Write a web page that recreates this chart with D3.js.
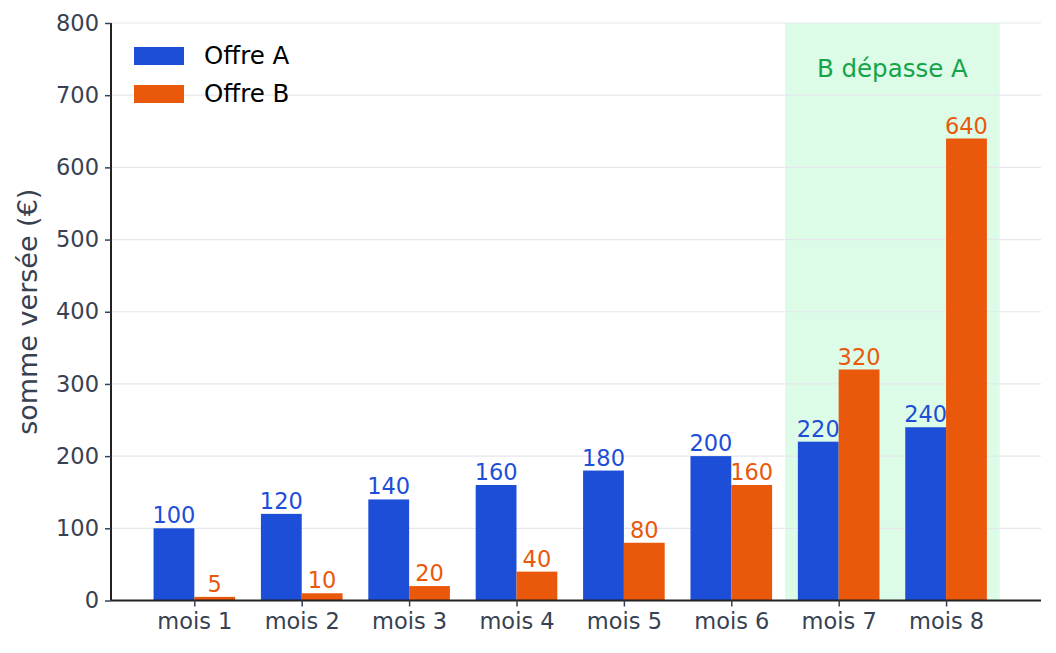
<!DOCTYPE html>
<html>
<head>
<meta charset="utf-8">
<script src="https://cdn.jsdelivr.net/npm/d3@7"></script>
<style>
  body { margin: 0; background: #fff; }
  svg text { font-family: "DejaVu Sans", sans-serif; }
</style>
</head>
<body>
<svg id="chart" width="1056" height="653"></svg>
<script>
// data
var months = ["mois 1", "mois 2", "mois 3", "mois 4", "mois 5", "mois 6", "mois 7", "mois 8"];
var offreA = [100, 120, 140, 160, 180, 200, 220, 240];
var offreB = [5, 10, 20, 40, 80, 160, 320, 640];
var seriesNames = ["Offre A", "Offre B"];
var yTicks = [0, 100, 200, 300, 400, 500, 600, 700, 800];
var highlight = [5.5, 7.5];      // months 7 and 8, in category units
var highlightLabel = "B dépasse A";

var colA = "#1d4ed8", colB = "#ea580c";
var axisCol = "#374151";

var svg = d3.select("#chart");
var plotL = 111, plotR = 1041, plotT = 23, plotB = 600.5;

var x = d3.scaleLinear().domain([-0.776, 7.884]).range([plotL, plotR]);
var y = d3.scaleLinear().domain([0, 800]).range([plotB, plotT]);
var barW = x(0.38) - x(0);

// shaded zone
svg.append("rect")
  .attr("x", x(highlight[0]))
  .attr("y", y(800))
  .attr("width", x(highlight[1]) - x(highlight[0]))
  .attr("height", y(0) - y(800))
  .attr("fill", "#dcfce7");

// grid
svg.append("g").selectAll("line").data(yTicks.slice(1)).enter().append("line")
  .attr("x1", plotL).attr("x2", plotR)
  .attr("y1", function(d){ return y(d); })
  .attr("y2", function(d){ return y(d); })
  .attr("stroke", "#e5e7eb").attr("stroke-width", 1.2);

svg.append("text")
  .attr("x", x((highlight[0] + highlight[1]) / 2))
  .attr("y", 77)
  .attr("text-anchor", "middle")
  .attr("font-size", 24.5)
  .attr("fill", "#16a34a")
  .text(highlightLabel);

// bars
var bars = svg.append("g");
function drawSeries(vals, off, col) {
  bars.selectAll(null).data(vals).enter().append("rect")
    .attr("x", function(d, i){ return x(i + off); })
    .attr("y", function(d){ return y(d); })
    .attr("width", barW)
    .attr("height", function(d){ return y(0) - y(d); })
    .attr("fill", col);
  bars.selectAll(null).data(vals).enter().append("text")
    .attr("x", function(d, i){ return x(i + off + 0.19); })
    .attr("y", function(d){ return y(d) - 5; })
    .attr("text-anchor", "middle")
    .attr("font-size", 22.5)
    .attr("fill", col)
    .text(function(d){ return d; });
}
drawSeries(offreA, -0.38, colA);
drawSeries(offreB, 0, colB);

// axes
var yAxis = svg.append("g")
  .attr("transform", "translate(" + plotL + ",0)")
  .call(d3.axisLeft(y).tickValues(yTicks).tickSize(6).tickPadding(6));
var xAxis = svg.append("g")
  .attr("transform", "translate(0," + plotB + ")")
  .call(d3.axisBottom(x).tickValues(d3.range(months.length))
    .tickFormat(function(i){ return months[i]; }).tickSize(6).tickPadding(7));

[yAxis, xAxis].forEach(function(g) {
  g.select(".domain").attr("stroke", "#222").attr("stroke-width", 2);
  g.selectAll(".tick line").attr("stroke", axisCol).attr("stroke-width", 1.5);
  g.selectAll(".tick text").attr("fill", axisCol).attr("font-size", 22.5)
    .style("font-family", "DejaVu Sans, sans-serif");
});
yAxis.select(".domain").attr("d", "M0," + plotT + "V" + plotB);
xAxis.select(".domain").attr("d", "M" + plotL + ",0H" + plotR);

svg.append("text")
  .attr("transform", "translate(37," + ((plotT + plotB) / 2) + ") rotate(-90)")
  .attr("text-anchor", "middle")
  .attr("font-size", 27)
  .attr("fill", axisCol)
  .text("somme versée (€)");

// legend
var leg = svg.append("g").selectAll("g").data(seriesNames).enter().append("g")
  .attr("transform", function(d, i){ return "translate(134," + (47 + i * 38) + ")"; });
leg.append("rect").attr("width", 50).attr("height", 18)
  .attr("fill", function(d, i){ return i ? colB : colA; });
leg.append("text").attr("x", 70).attr("y", 17).attr("font-size", 24.5)
  .attr("fill", "#000").text(function(d){ return d; });
</script>
</body>
</html>
